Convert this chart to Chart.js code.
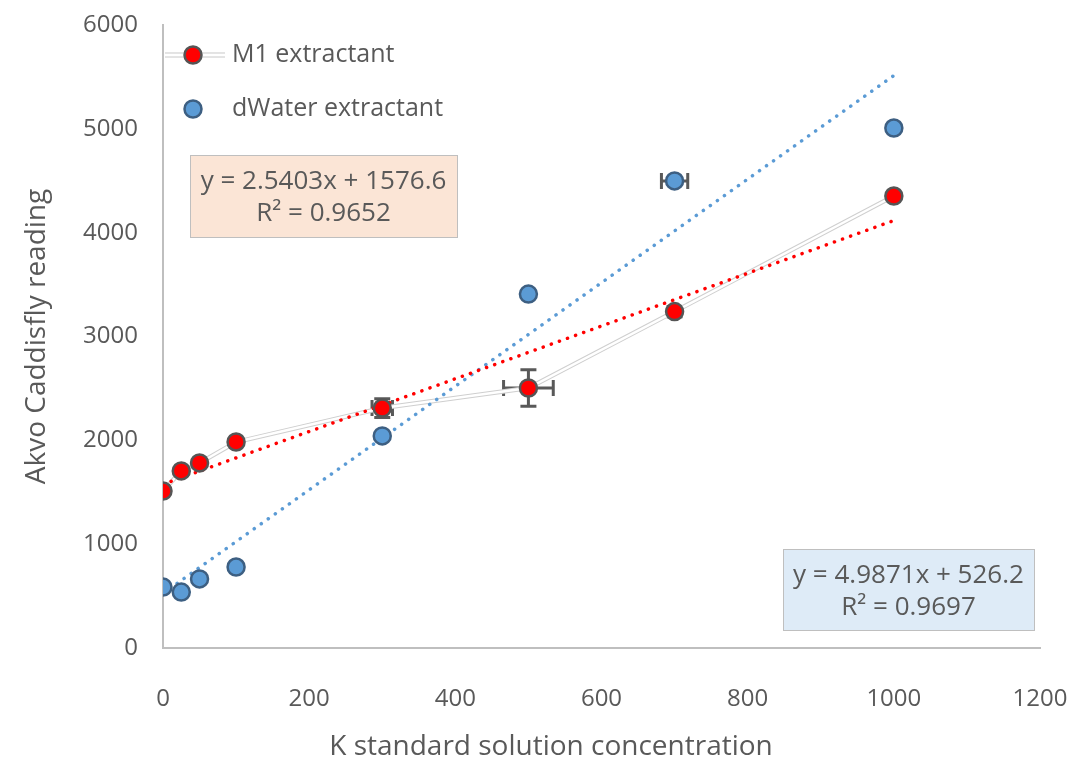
<!DOCTYPE html>
<html>
<head>
<meta charset="utf-8">
<script src="https://cdn.jsdelivr.net/npm/chart.js@4.4.1/dist/chart.umd.min.js"></script>
<style>
  body { margin: 0; background: #fff; }
  canvas { display: block; }
</style>
</head>
<body>
<canvas id="chart" width="1074" height="763"></canvas>
<script>
// concentrations (x) shared by both extractants
const conc = [0, 25, 50, 100, 300, 500, 700, 1000];

// M1 extractant readings and their error bars
const m1Reading = [1512, 1705, 1782, 1984, 2311, 2504, 3240, 4353];
const m1XErr = [0, 0, 0, 0, 14, 34, 0, 0];
const m1YErr = [0, 0, 0, 0, 90, 175, 50, 0];

// dWater extractant readings and their error bars
const waterReading = [587, 539, 665, 780, 2042, 3409, 4498, 5008];
const waterXErr = [0, 0, 0, 0, 0, 0, 18, 0];
const waterYErr = [0, 0, 0, 0, 0, 0, 0, 0];

// linear trendlines (slope, intercept, R²) as printed in the boxes
const m1Fit = { slope: 2.5403, icept: 1576.6, r2: '0.9652' };
const waterFit = { slope: 4.9871, icept: 526.2, r2: '0.9697' };
const fitRange = [0, 1000];

const xTicks = [0, 200, 400, 600, 800, 1000, 1200];
const yTicks = [0, 1000, 2000, 3000, 4000, 5000, 6000];

const xTitle = 'K standard solution concentration';
const yTitle = 'Akvo Caddisfly reading';

const gray = '#595959';
const font = "'Open Sans', 'Noto Sans', sans-serif";

function pts(xs, ys) {
  return xs.map((v, i) => ({ x: v, y: ys[i] }));
}
function fitLine(f) {
  return fitRange.map(v => ({ x: v, y: f.slope * v + f.icept }));
}

// error bars go under the markers
const errorBars = {
  id: 'errorBars',
  beforeDatasetsDraw(chart) {
    const { ctx, scales: { x, y } } = chart;
    const sets = [
      [m1Reading, m1XErr, m1YErr],
      [waterReading, waterXErr, waterYErr]
    ];
    ctx.save();
    ctx.strokeStyle = gray;
    ctx.lineWidth = 3;
    const cap = 8;
    sets.forEach(([ys, xe, ye]) => {
      conc.forEach((cx, i) => {
        const px = x.getPixelForValue(cx), py = y.getPixelForValue(ys[i]);
        if (xe[i]) {
          const l = x.getPixelForValue(cx - xe[i]), r = x.getPixelForValue(cx + xe[i]);
          ctx.beginPath();
          ctx.moveTo(l, py); ctx.lineTo(r, py);
          ctx.moveTo(l, py - cap); ctx.lineTo(l, py + cap);
          ctx.moveTo(r, py - cap); ctx.lineTo(r, py + cap);
          ctx.stroke();
        }
        if (ye[i]) {
          const t = y.getPixelForValue(ys[i] + ye[i]), b = y.getPixelForValue(ys[i] - ye[i]);
          ctx.beginPath();
          ctx.moveTo(px, t); ctx.lineTo(px, b);
          ctx.moveTo(px - cap, t); ctx.lineTo(px + cap, t);
          ctx.moveTo(px - cap, b); ctx.lineTo(px + cap, b);
          ctx.stroke();
        }
      });
    });
    ctx.restore();
  }
};

// legend in the top left corner, the two equation boxes and the x title
const extras = {
  id: 'extras',
  afterDraw(chart) {
    const { ctx, chartArea: a } = chart;
    ctx.save();
    // legend
    const lx = a.left + 30;
    const rows = [
      { y: a.top + 30, fill: '#ff0000', stroke: '#555555', line: true, text: 'M1 extractant' },
      { y: a.top + 84, fill: '#5b9bd5', stroke: '#3d5f82', line: false, text: 'dWater extractant' }
    ];
    rows.forEach(r => {
      if (r.line) {
        ctx.strokeStyle = '#c8c8c8';
        ctx.lineWidth = 5;
        ctx.beginPath(); ctx.moveTo(lx - 28, r.y); ctx.lineTo(lx + 32, r.y); ctx.stroke();
        ctx.strokeStyle = '#ffffff';
        ctx.lineWidth = 3;
        ctx.beginPath(); ctx.moveTo(lx - 28, r.y); ctx.lineTo(lx + 32, r.y); ctx.stroke();
      }
      ctx.beginPath();
      ctx.arc(lx, r.y, 8.5, 0, Math.PI * 2);
      ctx.fillStyle = r.fill; ctx.fill();
      ctx.lineWidth = 2.5; ctx.strokeStyle = r.stroke; ctx.stroke();
      ctx.fillStyle = gray;
      ctx.font = '25px ' + font;
      ctx.textAlign = 'left';
      ctx.textBaseline = 'middle';
      ctx.fillText(r.text, lx + 39, r.y);
    });

    // equation boxes
    const boxes = [
      { x: 190, y: 155, w: 267, h: 82, bg: '#fbe5d6', f: m1Fit },
      { x: 783, y: 549, w: 251, h: 81, bg: '#deebf7', f: waterFit }
    ];
    boxes.forEach(b => {
      ctx.fillStyle = b.bg;
      ctx.fillRect(b.x, b.y, b.w, b.h);
      ctx.strokeStyle = '#bfbfbf';
      ctx.lineWidth = 1;
      ctx.strokeRect(b.x + 0.5, b.y + 0.5, b.w, b.h);
      ctx.fillStyle = gray;
      ctx.font = '26px ' + font;
      ctx.textAlign = 'center';
      ctx.textBaseline = 'middle';
      const eq = 'y = ' + b.f.slope.toFixed(4) + 'x + ' + b.f.icept;
      ctx.fillText(eq, b.x + b.w / 2, b.y + 27);
      ctx.fillText('R² = ' + b.f.r2, b.x + b.w / 2, b.y + 59);
    });

    // x axis title sits a little left of the plot centre
    ctx.fillStyle = gray;
    ctx.font = '28px ' + font;
    ctx.textAlign = 'center';
    ctx.textBaseline = 'middle';
    ctx.fillText(xTitle, 551, 747);
    ctx.restore();
  }
};

const markerStyle = {
  showLine: false,
  pointRadius: 8.5,
  pointBorderWidth: 2.5
};
const dotted = {
  showLine: true,
  pointRadius: 0,
  borderWidth: 3.5,
  borderDash: [0.1, 8.5],
  borderCapStyle: 'round'
};

new Chart(document.getElementById('chart'), {
  type: 'scatter',
  data: {
    datasets: [
      {
        label: 'M1 extractant',
        data: pts(conc, m1Reading),
        ...markerStyle,
        pointBackgroundColor: '#ff0000',
        pointBorderColor: '#555555',
        order: 1
      },
      {
        label: 'dWater extractant',
        data: pts(conc, waterReading),
        ...markerStyle,
        pointBackgroundColor: '#5b9bd5',
        pointBorderColor: '#3d5f82',
        order: 2
      },
      { label: 'm1 trend', data: fitLine(m1Fit), ...dotted, borderColor: '#ff0000', order: 3 },
      { label: 'water trend', data: fitLine(waterFit), ...dotted, borderColor: '#5b9bd5', order: 4 },
      {
        // thin double connector for M1 (white core over grey)
        label: 'm1 core',
        data: pts(conc, m1Reading),
        showLine: true,
        pointRadius: 0,
        borderColor: '#ffffff',
        borderWidth: 2.5,
        order: 5
      },
      {
        label: 'm1 edge',
        data: pts(conc, m1Reading),
        showLine: true,
        pointRadius: 0,
        borderColor: '#cfcfcf',
        borderWidth: 4.5,
        order: 6
      }
    ]
  },
  options: {
    responsive: false,
    animation: false,
    layout: { padding: { left: 0, top: 25, right: 34, bottom: 0 } },
    plugins: {
      legend: { display: false },
      tooltip: { enabled: false }
    },
    scales: {
      x: {
        type: 'linear',
        min: 0,
        max: 1200,
        afterBuildTicks: s => { s.ticks = xTicks.map(v => ({ value: v })); },
        afterFit: s => {
          s.height = 115;
          s.paddingLeft = 0;
          s.paddingRight = 0;
        },
        grid: { display: false, drawTicks: false },
        border: { color: '#bfbfbf', width: 2 },
        ticks: {
          color: gray,
          font: { family: font, size: 24 },
          padding: 37,
          maxRotation: 0,
          callback: v => String(v)
        }
      },
      y: {
        min: 0,
        max: 6000,
        afterBuildTicks: s => { s.ticks = yTicks.map(v => ({ value: v })); },
        afterFit: s => {
          s.width = 163;
          s.paddingTop = 0;
          s.paddingBottom = 0;
        },
        grid: { display: false, drawTicks: false },
        border: { color: '#bfbfbf', width: 2 },
        ticks: {
          color: gray,
          font: { family: font, size: 24 },
          padding: 25,
          callback: v => String(v)
        },
        title: {
          display: true,
          text: yTitle,
          color: gray,
          font: { family: font, size: 28 },
          padding: { top: 20, bottom: 0 }
        }
      }
    }
  },
  plugins: [errorBars, extras]
});
</script>
</body>
</html>
